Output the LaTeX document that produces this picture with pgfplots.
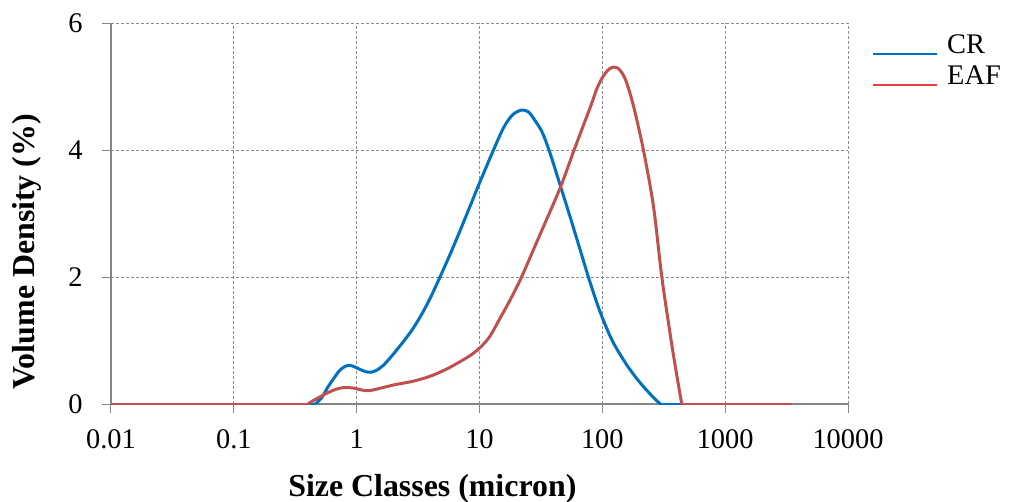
\documentclass[border=0pt]{standalone}
\usepackage{fontspec}
\setmainfont{Liberation Serif}
\usepackage{pgfplots}
\pgfplotsset{compat=1.18}
\definecolor{crblue}{HTML}{0070C0}
\definecolor{eafred}{HTML}{C0504D}
\definecolor{legred}{HTML}{EE3B3B}
\definecolor{axgray}{HTML}{868686}
\definecolor{gridgray}{HTML}{8C8C8C}
\begin{document}
\begin{tikzpicture}
\useasboundingbox (-111bp,-98bp) rectangle (899bp,404bp);
\begin{axis}[
  at={(0,0)}, anchor=south west,
  scale only axis, width=737bp, height=381bp,
  xmode=log, xmin=0.01, xmax=10000, ymin=0, ymax=6,
  xtick={0.01,0.1,1,10,100,1000,10000},
  xticklabels={0.01,0.1,1,10,100,1000,10000},
  xminorticks=false,
  ytick={0,2,4,6},
  axis x line*=bottom, axis y line*=left,
  axis line style={axgray, line width=1.3bp},
  tick align=outside, major tick length=9bp,
  major tick style={axgray, line width=1bp},
  grid=major,
  major grid style={gridgray, dash pattern=on 3bp off 2bp, line width=0.8bp},
  /pgf/number format/assume math mode=true,
  tick label style={font=\fontsize{28.5}{31}\selectfont},
  xticklabel style={yshift=-13bp},
  yticklabel style={xshift=-16bp},
  xlabel={Size Classes (micron)},
  ylabel={Volume Density (\%)},
  xlabel style={at={(axis description cs:0.436,-0.222)}, anchor=center, font=\fontsize{32}{35}\selectfont\bfseries},
  ylabel style={at={(axis description cs:-0.114,0.400)}, anchor=center, rotate=0, font=\fontsize{32}{35}\selectfont\bfseries},
  legend image code/.code={\draw[#1, line width=2bp] (0bp,-7bp) -- (64bp,-7bp);},
  legend style={at={(axis description cs:1.0326,0.975)}, anchor=north west, draw=none, fill=none,
    font=\fontsize{28.5}{31}\selectfont, inner sep=0pt, row sep=3bp, column sep=0bp,
    nodes={inner sep=1bp, text height=20bp, text depth=6bp},
    /tikz/every odd column/.append style={column sep=8bp}},
  legend cell align=left,
]
\addlegendimage{crblue}
\addlegendentry{CR}
\addlegendimage{legred}
\addlegendentry{EAF}
% CR
\addplot[crblue, line width=3bp, forget plot] coordinates {(0.01,0) (0.46,0)};
\addplot[crblue, line width=3bp, line join=round, smooth, tension=0.5, forget plot] coordinates {
(0.46,0) (0.52,0.10) (0.58,0.26) (0.65,0.40) (0.72,0.52) (0.8,0.59) (0.87,0.61)
(0.95,0.59) (1.05,0.55) (1.18,0.51) (1.3,0.50) (1.45,0.53) (1.65,0.61) (1.9,0.74)
(2.2,0.89) (2.6,1.07) (2.9,1.20) (3.4,1.42) (4.0,1.68) (4.77,2.0) (5.8,2.37)
(6.95,2.73) (8.4,3.12) (10,3.48) (13,4.0) (15.7,4.35) (18.5,4.55) (22,4.63)
(25,4.60) (27.5,4.50) (32.2,4.29) (37.1,3.98) (45.3,3.45) (55,2.93) (65,2.47)
(77,2.0) (90,1.60) (100,1.36) (115,1.08) (130,0.88) (160,0.60) (200,0.35) (250,0.14) (296,0)
};
\addplot[crblue, line width=3bp, forget plot] coordinates {(296,0) (3500,0)};
% EAF
\addplot[eafred, line width=3bp, forget plot] coordinates {(0.01,0) (0.40,0)};
\addplot[eafred, line width=3bp, line join=round, smooth, tension=0.5, forget plot] coordinates {
(0.40,0) (0.45,0.06) (0.5,0.11) (0.6,0.19) (0.7,0.24) (0.8,0.26) (0.95,0.25)
(1.1,0.22) (1.25,0.21) (1.5,0.24) (2,0.30) (2.9,0.36) (4,0.44) (5.4,0.55) (7,0.67)
(8.5,0.77) (10,0.88) (12,1.05) (14.7,1.35) (18,1.66) (22,2.0) (30,2.60) (45.3,3.40)
(58.9,4.0) (80,4.68) (90,4.96) (100,5.14) (110,5.25) (120,5.30) (130,5.30) (140,5.25)
(155,5.10) (179,4.70) (216,4.0) (261,3.11) (305,2.0) (360,1.05) (400,0.5) (443,0)
};
\addplot[eafred, line width=3bp, forget plot] coordinates {(443,0) (3500,0)};
\end{axis}
\end{tikzpicture}
\end{document}
